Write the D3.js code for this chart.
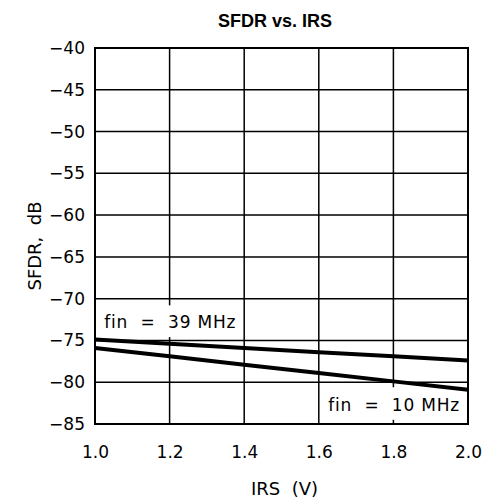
<!DOCTYPE html>
<html>
<head>
<meta charset="utf-8">
<script src="https://cdn.jsdelivr.net/npm/d3@7"></script>
<style>
  body { margin: 0; background: #fff; }
  text { font-family: "DejaVu Sans", sans-serif; fill: #000; }
</style>
</head>
<body>
<svg id="chart" width="493" height="503"></svg>
<script>
// SFDR vs. IRS data
var irs = [1.0, 1.2, 1.4, 1.6, 1.8, 2.0];
var sfdr39 = [-74.9, -75.4, -75.9, -76.4, -76.9, -77.4];
var sfdr10 = [-75.9, -76.9, -77.9, -78.9, -79.9, -80.9];
var xTicks = [1.0, 1.2, 1.4, 1.6, 1.8, 2.0];
var yTicks = [-40, -45, -50, -55, -60, -65, -70, -75, -80, -85];

var svg = d3.select("#chart"),
    margin = { top: 48, right: 25, bottom: 79, left: 95 },
    width = +svg.attr("width") - margin.left - margin.right,
    height = +svg.attr("height") - margin.top - margin.bottom;

var x = d3.scaleLinear().domain([1.0, 2.0]).range([0, width]);
var y = d3.scaleLinear().domain([-85, -40]).range([height, 0]);

var g = svg.append("g")
    .attr("transform", "translate(" + margin.left + "," + margin.top + ")");

// title
svg.append("text")
    .attr("x", 275).attr("y", 27)
    .attr("text-anchor", "middle")
    .style("font-family", "Liberation Sans, Arial, sans-serif")
    .style("font-weight", "bold")
    .style("font-size", "18px")
    .text("SFDR vs. IRS");

// grid lines
g.append("g")
    .selectAll("line.v")
    .data(xTicks)
    .enter().append("line")
    .attr("x1", function (d) { return x(d); })
    .attr("x2", function (d) { return x(d); })
    .attr("y1", 0).attr("y2", height)
    .attr("stroke", "#000").attr("stroke-width", 1.5);

g.append("g")
    .selectAll("line.h")
    .data(yTicks)
    .enter().append("line")
    .attr("y1", function (d) { return y(d); })
    .attr("y2", function (d) { return y(d); })
    .attr("x1", 0).attr("x2", width)
    .attr("stroke", "#000").attr("stroke-width", 1.5);

// tick labels
var xAxis = g.append("g")
    .attr("transform", "translate(0," + height + ")")
    .call(d3.axisBottom(x).tickValues(xTicks).tickSize(0).tickPadding(22)
        .tickFormat(d3.format(".1f")));
xAxis.select(".domain").remove();
xAxis.selectAll("text").style("font-size", "17px").style("font-family", "DejaVu Sans");

var yAxis = g.append("g")
    .call(d3.axisLeft(y).tickValues(yTicks).tickSize(0).tickPadding(10)
        .tickFormat(function (d) { return d3.format("d")(d).replace("-", "\u2212"); }));
yAxis.select(".domain").remove();
yAxis.selectAll("text").style("font-size", "17px").style("font-family", "DejaVu Sans");

// axis titles
svg.append("text")
    .attr("x", margin.left + width / 2 + 3).attr("y", 495)
    .attr("text-anchor", "middle")
    .style("font-size", "18px")
    .style("white-space", "pre")
    .text("IRS  (V)");

svg.append("text")
    .attr("transform", "translate(41," + (margin.top + 198) + ") rotate(-90)")
    .attr("text-anchor", "middle")
    .style("font-size", "18px")
    .style("white-space", "pre")
    .text("SFDR,  dB");

// label boxes
var labels = [
    { text: "fin  =  39 MHz", x0: 1.0, x1: 1.4, y0: -70.8, y1: -74.6, tx: 1.025, ty: -73.5 },
    { text: "fin  =  10 MHz", x0: 1.6, x1: 2.0, y0: -80.6, y1: -84.5, tx: 1.625, ty: -83.4 }
];

g.selectAll(".lbox")
    .data(labels)
    .enter().append("rect")
    .attr("class", "lbox")
    .attr("x", function (d) { return x(d.x0) + 2; })
    .attr("width", function (d) { return x(d.x1) - x(d.x0) - 4; })
    .attr("y", function (d) { return y(d.y0); })
    .attr("height", function (d) { return y(d.y1) - y(d.y0); })
    .attr("fill", "#fff");

g.selectAll(".ltext")
    .data(labels)
    .enter().append("text")
    .attr("class", "ltext")
    .attr("x", function (d) { return x(d.tx); })
    .attr("y", function (d) { return y(d.ty); })
    .style("font-size", "17px")
    .style("letter-spacing", "0.8px")
    .style("white-space", "pre")
    .text(function (d) { return d.text; });

// data lines
var line = d3.line()
    .x(function (d, i) { return x(irs[i]); })
    .y(function (d) { return y(d); });

[sfdr39, sfdr10].forEach(function (s) {
    g.append("path")
        .datum(s)
        .attr("d", line)
        .attr("fill", "none")
        .attr("stroke", "#000")
        .attr("stroke-width", 4);
});

// frame
g.append("rect")
    .attr("width", width).attr("height", height)
    .attr("fill", "none")
    .attr("stroke", "#000")
    .attr("stroke-width", 2);
</script>
</body>
</html>
